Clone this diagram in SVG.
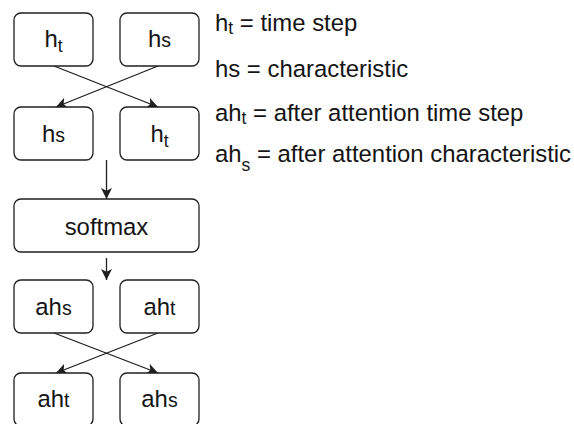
<svg xmlns="http://www.w3.org/2000/svg" width="574" height="424" viewBox="0 0 574 424">
  <style>
    .box { fill: #ffffff; stroke: #1f1f1f; stroke-width: 1.3; }
    .lbl { font-family: "Liberation Sans", Arial, sans-serif; font-size: 23.9px; fill: #151515; text-anchor: middle; }
    .leg { font-family: "Liberation Sans", Arial, sans-serif; font-size: 23.9px; fill: #151515; }
    .sm { font-size: 19.5px; }
    .sub { font-size: 17.5px; }
    .edge { fill: none; stroke: #1f1f1f; stroke-width: 1.3; }
  </style>
  <defs>
    <marker id="arrow" markerUnits="userSpaceOnUse" markerWidth="13" markerHeight="13" refX="11" refY="5.5" orient="auto">
      <path d="M0,0 L11,5.5 L0,11 L2.8,5.5 Z" fill="#1f1f1f"/>
    </marker>
  </defs>
  <rect width="574" height="424" fill="#ffffff"/>

  <!-- connectors -->
  <g id="connectors">
    <line class="edge" x1="54" y1="66" x2="158" y2="107" marker-end="url(#arrow)"/>
    <line class="edge" x1="158" y1="66" x2="56" y2="107" marker-end="url(#arrow)"/>
    <line class="edge" x1="106.5" y1="160" x2="106.5" y2="199" marker-end="url(#arrow)"/>
    <line class="edge" x1="106.5" y1="258" x2="106.5" y2="280" marker-end="url(#arrow)"/>
    <line class="edge" x1="54" y1="333" x2="158" y2="373" marker-end="url(#arrow)"/>
    <line class="edge" x1="158" y1="333" x2="56" y2="373" marker-end="url(#arrow)"/>
  </g>

  <!-- row 1 -->
  <g id="n-ht-top">
    <rect class="box" x="14" y="13" width="79" height="53" rx="7"/>
    <text class="lbl" x="53.5" y="47">h<tspan class="sub" dy="5">t</tspan></text>
  </g>
  <g id="n-hs-top">
    <rect class="box" x="120" y="13" width="79" height="53" rx="7"/>
    <text class="lbl" x="159.5" y="47">h<tspan class="sm">s</tspan></text>
  </g>

  <!-- row 2 -->
  <g id="n-hs-mid">
    <rect class="box" x="14" y="107" width="79" height="53" rx="7"/>
    <text class="lbl" x="53.5" y="141.5">h<tspan class="sm">s</tspan></text>
  </g>
  <g id="n-ht-mid">
    <rect class="box" x="120" y="107" width="79" height="53" rx="7"/>
    <text class="lbl" x="159.5" y="141.5">h<tspan class="sub" dy="5">t</tspan></text>
  </g>

  <!-- softmax -->
  <g id="n-softmax">
    <rect class="box" x="14" y="199" width="185" height="53" rx="7"/>
    <text class="lbl" x="106.5" y="235">softmax</text>
  </g>

  <!-- row 3 -->
  <g id="n-ahs-top">
    <rect class="box" x="14" y="280" width="79" height="53" rx="7"/>
    <text class="lbl" x="53.5" y="315">ah<tspan class="sm">s</tspan></text>
  </g>
  <g id="n-aht-top">
    <rect class="box" x="120" y="280" width="79" height="53" rx="7"/>
    <text class="lbl" x="159.5" y="315">ah<tspan class="sm">t</tspan></text>
  </g>

  <!-- row 4 -->
  <g id="n-aht-bot">
    <rect class="box" x="14" y="373" width="79" height="53" rx="7"/>
    <text class="lbl" x="53.5" y="407">ah<tspan class="sm">t</tspan></text>
  </g>
  <g id="n-ahs-bot">
    <rect class="box" x="120" y="373" width="79" height="53" rx="7"/>
    <text class="lbl" x="159.5" y="407">ah<tspan class="sm">s</tspan></text>
  </g>

  <!-- legend -->
  <g id="legend">
    <text class="leg" x="215" y="31">h<tspan class="sub" dy="2.5">t</tspan><tspan dy="-2.5"> = time step</tspan></text>
    <text class="leg" x="215" y="77">hs = characteristic</text>
    <text class="leg" x="215" y="121">ah<tspan class="sub" dy="2.5">t</tspan><tspan dy="-2.5"> = after attention time step</tspan></text>
    <text class="leg" x="215" y="162">ah<tspan class="sub" dy="9">s</tspan><tspan dy="-9"> = after attention characteristic</tspan></text>
  </g>
</svg>
